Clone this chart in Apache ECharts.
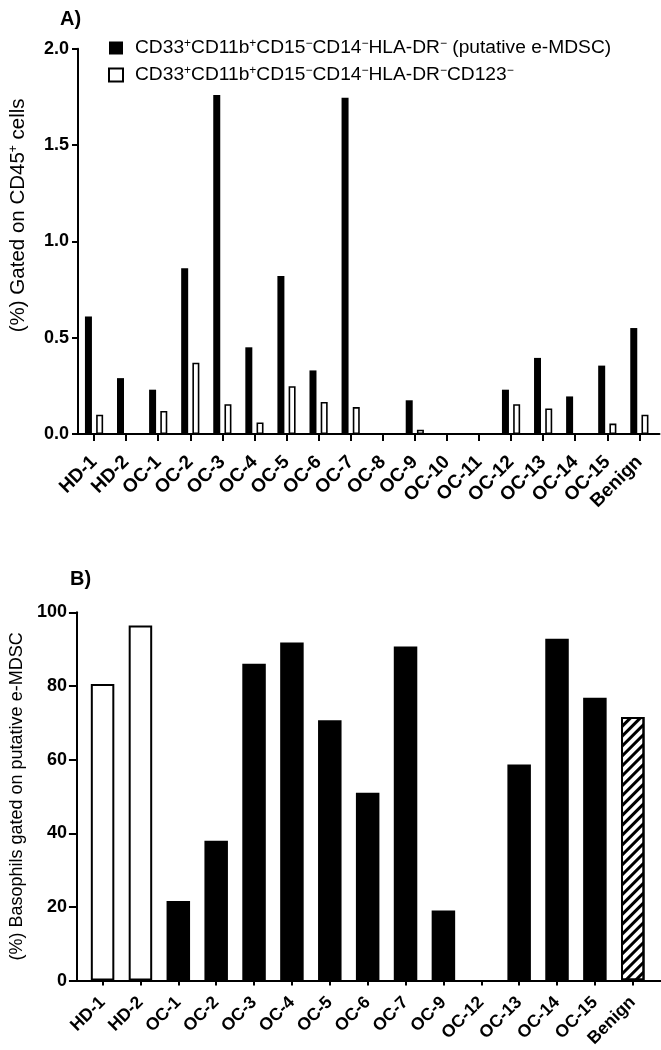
<!DOCTYPE html>
<html>
<head>
<meta charset="utf-8">
<script src="https://cdn.jsdelivr.net/npm/echarts@6/dist/echarts.min.js"></script>
<style>
html,body{margin:0;padding:0;background:#fff;}
#chart{width:661px;height:1050px;}
</style>
</head>
<body>
<div id="chart"></div>
<script>
// ---------- Data ----------
const categoriesA = ['HD-1','HD-2','OC-1','OC-2','OC-3','OC-4','OC-5','OC-6','OC-7','OC-8','OC-9','OC-10','OC-11','OC-12','OC-13','OC-14','OC-15','Benign'];
const seriesNamesA = ['CD33⁺CD11b⁺CD15⁻CD14⁻HLA-DR⁻ (putative e-MDSC)', 'CD33⁺CD11b⁺CD15⁻CD14⁻HLA-DR⁻CD123⁻'];
const eMDSC = [0.61,0.29,0.23,0.86,1.76,0.45,0.82,0.33,1.745,0,0.175,0,0,0.23,0.395,0.195,0.355,0.55];
const eMDSC_CD123neg = [0.10,0,0.12,0.37,0.155,0.06,0.248,0.166,0.14,0,0.022,0,0,0.155,0.133,0,0.054,0.10];
const yTicksA = [0, 0.5, 1.0, 1.5, 2.0];

const categoriesB = ['HD-1','HD-2','OC-1','OC-2','OC-3','OC-4','OC-5','OC-6','OC-7','OC-9','OC-12','OC-13','OC-14','OC-15','Benign'];
const basophils = [80.5,96.4,21.6,38,86,91.8,70.7,51,90.7,19,0,58.7,92.8,76.8,71.6];
const yTicksB = [0, 20, 40, 60, 80, 100];

// ---------- Styles ----------
const FONT = 'Liberation Sans, Arial, sans-serif';
const BLACK = '#000';

function supRich(s){
  return s.replace(/⁺/g,'{s|+}').replace(/⁻/g,'{s|−}');
}

const styleFor = (cat) => {
  if (cat.startsWith('HD')) return {color:'#fff', borderColor:BLACK, borderWidth:2};
  if (cat === 'Benign') return {color:'#fff', borderColor:BLACK, borderWidth:2,
    decal:{symbol:'rect', symbolSize:1, color:BLACK, dashArrayX:[1,0], dashArrayY:[2.2,4], rotation:-Math.PI/4}};
  return {color:BLACK};
};

const axisLine = {show:true, lineStyle:{color:BLACK, width:2}};
const axisTick = {show:true, length:6, lineStyle:{color:BLACK, width:2}};
const tickLabel = {color:BLACK, fontFamily:FONT, fontWeight:'bold', fontSize:17};

const chart = echarts.init(document.getElementById('chart'), null, {renderer:'canvas'});

const option = {
  backgroundColor:'#fff',
  animation:false,
  title:[
    {text:'A)', left:55, top:4, textStyle:{fontFamily:FONT, fontWeight:'bold', fontSize:20, color:BLACK}},
    {text:'B)', left:65, top:564, textStyle:{fontFamily:FONT, fontWeight:'bold', fontSize:20, color:BLACK}}
  ],
  legend:{
    orient:'vertical', left:103, top:33, itemWidth:14, itemHeight:13, itemGap:7,
    icon:'rect',
    data:[
      {name:seriesNamesA[0], itemStyle:{color:BLACK, borderWidth:0}},
      {name:seriesNamesA[1], itemStyle:{color:'#fff', borderColor:BLACK, borderWidth:2}}
    ],
    formatter:(n)=>supRich(n),
    textStyle:{fontFamily:FONT, fontSize:19.2, color:BLACK, lineHeight:20, padding:[0,0,0,7],
      rich:{s:{fontSize:12, verticalAlign:'top', lineHeight:12, fontFamily:FONT, color:BLACK}}}
  },
  grid:[
    {left:76, right:5.6, top:48.7, height:385.3, containLabel:false},
    {left:76, right:1.5, top:48.7, height:385.3, containLabel:false},
    {left:82.7, right:9.3, top:612.3, height:368.4, containLabel:false},
    {left:76, right:0, top:612.3, height:368.4, containLabel:false}
  ],
  xAxis:[
    {type:'category', gridIndex:0, data:categoriesA, boundaryGap:true,
      axisLine:axisLine, axisTick:Object.assign({}, axisTick, {length:7, alignWithLabel:true}),
      axisLabel:Object.assign({}, tickLabel, {fontSize:19, rotate:45, margin:25, interval:0})},
    {type:'category', gridIndex:1, data:[], axisLine:axisLine, axisTick:{show:false}, axisLabel:{show:false}},
    {type:'category', gridIndex:2, data:categoriesB, boundaryGap:true,
      axisLine:axisLine, axisTick:Object.assign({}, axisTick, {length:5, alignWithLabel:true}),
      axisLabel:Object.assign({}, tickLabel, {fontSize:17.5, rotate:45, margin:19, interval:0})},
    {type:'category', gridIndex:3, data:[], axisLine:axisLine, axisTick:{show:false}, axisLabel:{show:false}}
  ],
  yAxis:[
    {type:'value', gridIndex:0, min:yTicksA[0], max:yTicksA[yTicksA.length-1], interval:yTicksA[1]-yTicksA[0],
      splitLine:{show:false}, axisLine:axisLine, axisTick:axisTick,
      axisLabel:Object.assign({}, tickLabel, {fontSize:18, margin:9, formatter:(v)=>v.toFixed(1)}),
      name:supRich('(%) Gated on CD45⁺ cells'), nameLocation:'middle', nameGap:49,
      nameTextStyle:{fontFamily:FONT, fontSize:20.5, color:BLACK, padding:[0,0,0,52],
        rich:{s:{fontSize:12, verticalAlign:'top', lineHeight:12, color:BLACK, fontFamily:FONT}}}},
    {type:'value', gridIndex:1, show:false, min:0, max:2},
    {type:'value', gridIndex:2, min:yTicksB[0], max:yTicksB[yTicksB.length-1], interval:yTicksB[1]-yTicksB[0], offset:6.7,
      splitLine:{show:false}, axisLine:axisLine, axisTick:Object.assign({}, axisTick, {length:8}),
      axisLabel:Object.assign({}, tickLabel, {fontSize:18, margin:10}),
      name:'(%) Basophils gated on putative e-MDSC', nameLocation:'middle', nameGap:44,
      nameTextStyle:{fontFamily:FONT, fontSize:18, color:BLACK}},
    {type:'value', gridIndex:3, show:false, min:0, max:100}
  ],
  series:[
    {name:seriesNamesA[0], type:'bar', xAxisIndex:0, yAxisIndex:0, data:eMDSC,
      barWidth:7, barGap:'60%', itemStyle:{color:BLACK}},
    {name:seriesNamesA[1], type:'bar', xAxisIndex:0, yAxisIndex:0, data:eMDSC_CD123neg,
      barWidth:7, barGap:'60%', itemStyle:{color:'#fff', borderColor:BLACK, borderWidth:1.6}},
    {name:'Basophils', type:'bar', xAxisIndex:2, yAxisIndex:2, barWidth:23.5,
      data:basophils.map((v,i)=>({value:v, itemStyle:styleFor(categoriesB[i])}))}
  ]
};
chart.setOption(option);
</script>
</body>
</html>
